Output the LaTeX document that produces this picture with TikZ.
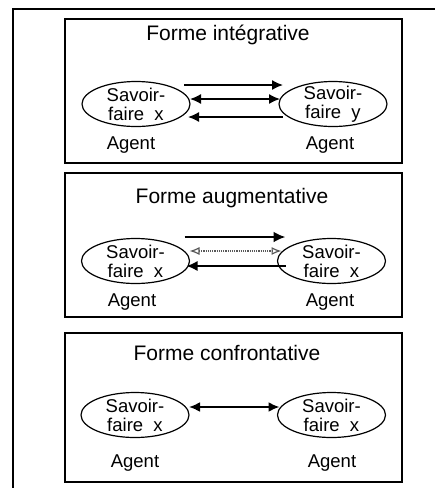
\documentclass[tikz,border=0pt]{standalone}
\usepackage{fontspec}
\setmainfont{Liberation Sans}
\usetikzlibrary{arrows.meta,shapes.geometric}
\begin{document}
\begin{tikzpicture}[x=1pt,y=-1pt,
  panel/.style={draw,line width=1.2pt},
  ttl/.style={font=\fontsize{21}{24}\selectfont},
  txt/.style={font=\fontsize{18.5}{19}\selectfont},
  sf/.style={draw,ellipse,line width=1.2pt,minimum width=108pt,minimum height=45pt,inner sep=0pt,
    label={[txt,align=center]center:#1}},
  arr/.style={line width=1.5pt,-{Latex[length=11pt,width=10pt]}},
  darr/.style={line width=1.5pt,{Latex[length=11pt,width=10pt]}-{Latex[length=11pt,width=10pt]}},
  garr/.style={line width=1.2pt,gray!70!black,densely dotted,{Latex[open,length=10pt,width=8pt]}-{Latex[open,length=10pt,width=8pt]}}
]
\useasboundingbox (0,0) rectangle (435,488);
% outer frame
\draw[line width=2pt] (13,488) -- (13,9) -- (435,9);
% panel 1
\draw[panel] (65,19) rectangle (402,163);
\node[ttl] (t1) at (228,35) {Forme intégrative};
\node[sf={Savoir-\\faire\ \ x}] (l1) at (136,104) {};
\node[sf={Savoir-\\faire\ \ y}] (r1) at (333,104) {};
\node[txt] (a1l) at (131,145) {Agent};
\node[txt] (a1r) at (330,145) {Agent};
\draw[arr] ([xshift=48pt,yshift=19pt]l1.center) -- ([xshift=-50pt,yshift=19pt]r1.center);
\draw[darr] ([xshift=54pt,yshift=5pt]l1.center) -- ([xshift=-53pt,yshift=5pt]r1.center);
\draw[arr] ([xshift=-50pt,yshift=-13pt]r1.center) -- ([xshift=52pt,yshift=-13pt]l1.center);
% panel 2
\draw[panel] (65,173) rectangle (402,317);
\node[ttl] (t2) at (232,198) {Forme augmentative};
\node[sf={Savoir-\\faire\ \ x}] (l2) at (135.5,261) {};
\node[sf={Savoir-\\faire\ \ x}] (r2) at (331.5,261) {};
\node[txt] (a2l) at (132,302) {Agent};
\node[txt] (a2r) at (330,302) {Agent};
\draw[line width=2.5pt,-{Latex[length=12pt,width=11pt]}] ([xshift=49pt,yshift=24pt]l2.center) -- ([xshift=-46pt,yshift=24pt]r2.center);
\draw[garr] ([xshift=54pt,yshift=10pt]l2.center) -- ([xshift=-50pt,yshift=10pt]r2.center);
\draw[arr] ([xshift=-46pt,yshift=-5pt]r2.center) -- ([xshift=51pt,yshift=-5pt]l2.center);
% panel 3
\draw[panel] (65,333) rectangle (402,482);
\node[ttl] (t3) at (227,353) {Forme confrontative};
\node[sf={Savoir-\\faire\ \ x}] (l3) at (135,415) {};
\node[sf={Savoir-\\faire\ \ x}] (r3) at (331.5,415) {};
\node[txt] (a3l) at (135,463) {Agent};
\node[txt] (a3r) at (332,463) {Agent};
\draw[darr,line width=2pt] ([xshift=54pt,yshift=8pt]l3.center) -- ([xshift=-52pt,yshift=8pt]r3.center);
\end{tikzpicture}
\end{document}
